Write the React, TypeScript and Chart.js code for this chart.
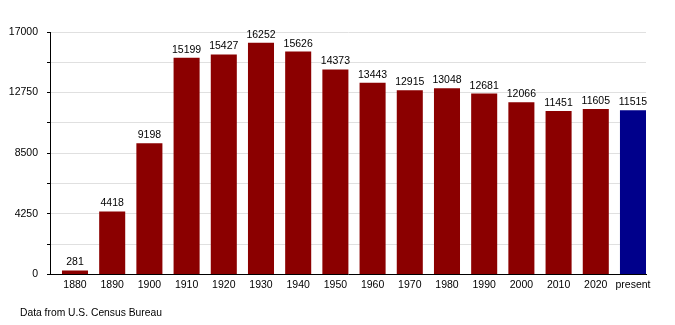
import React, { useEffect, useRef } from "react";
import { Chart, registerables } from "chart.js";

Chart.register(...registerables);

const categories = ["1880", "1890", "1900", "1910", "1920", "1930", "1940", "1950", "1960", "1970", "1980", "1990", "2000", "2010", "2020", "present"];
const population = [281, 4418, 9198, 15199, 15427, 16252, 15626, 14373, 13443, 12915, 13048, 12681, 12066, 11451, 11605, 11515];
const barColors = ["#8b0000", "#8b0000", "#8b0000", "#8b0000", "#8b0000", "#8b0000", "#8b0000", "#8b0000", "#8b0000", "#8b0000", "#8b0000", "#8b0000", "#8b0000", "#8b0000", "#8b0000", "#00008b"];
const yMax = 17000;
const yStep = 2125;
const sourceNote = "Data from U.S. Census Bureau";

const FONT = "'Liberation Sans', Arial, sans-serif";

const valueLabels = {
  id: "valueLabels",
  afterDatasetsDraw(chart: any) {
    const ctx = chart.ctx;
    const meta = chart.getDatasetMeta(0);
    ctx.save();
    ctx.font = `10.5px ${FONT}`;
    ctx.fillStyle = "#000";
    ctx.textAlign = "center";
    ctx.textBaseline = "alphabetic";
    meta.data.forEach((bar: any, i: number) => {
      ctx.fillText(String(population[i]), bar.x, bar.y - 5);
    });
    ctx.restore();
  },
};

const footer = {
  id: "footer",
  afterDraw(chart: any) {
    const ctx = chart.ctx;
    ctx.save();
    ctx.font = `10.3px ${FONT}`;
    ctx.fillStyle = "#000";
    ctx.textAlign = "left";
    ctx.textBaseline = "middle";
    ctx.fillText(sourceNote, 20, 313);
    ctx.restore();
  },
};

export default function App() {
  const ref = useRef<HTMLCanvasElement>(null);
  useEffect(() => {
    document.body.style.margin = "0";
    const chart = new Chart(ref.current!, {
      type: "bar",
      data: {
        datasets: [
          {
            data: population.map((v, i) => ({ x: i, y: v })),
            backgroundColor: barColors,
            borderWidth: 0,
            barPercentage: 0.7,
            categoryPercentage: 1,
          },
        ],
      },
      options: {
        animation: false,
        responsive: false,
        maintainAspectRatio: false,
        layout: { padding: { top: 32, right: 29, bottom: 30, left: 0 } },
        plugins: { legend: { display: false }, tooltip: { enabled: false } },
        scales: {
          x: {
            type: "linear",
            min: -0.672,
            max: 15.35,
            offset: false,
            grid: { display: false, drawTicks: false },
            border: { color: "#000", width: 1 },
            ticks: {
              stepSize: 1,
              includeBounds: false,
              color: "#000",
              font: { family: FONT, size: 10.5 },
              padding: 4,
              maxRotation: 0,
              autoSkip: false,
              callback: (v: any) => {
                const n = Number(v);
                return Number.isInteger(n) && categories[n] !== undefined ? categories[n] : "";
              },
            },
          },
          y: {
            min: 0,
            max: yMax,
            afterFit(scale: any) {
              scale.width = 50;
            },
            grid: { color: "#e0e0e0", tickColor: "#000", tickLength: 3 },
            border: { color: "#000", width: 1 },
            ticks: {
              stepSize: yStep,
              color: "#000",
              font: { family: FONT, size: 10.5 },
              padding: 9,
              callback: (v: any) => (Number(v) % (yStep * 2) === 0 ? String(v) : ""),
            },
          },
        },
      },
      plugins: [valueLabels, footer],
    });
    return () => chart.destroy();
  }, []);
  return (
    <div style={{ width: 675, height: 325 }}>
      <canvas ref={ref} width={675} height={325} style={{ display: "block", background: "#fff" }} />
    </div>
  );
}
